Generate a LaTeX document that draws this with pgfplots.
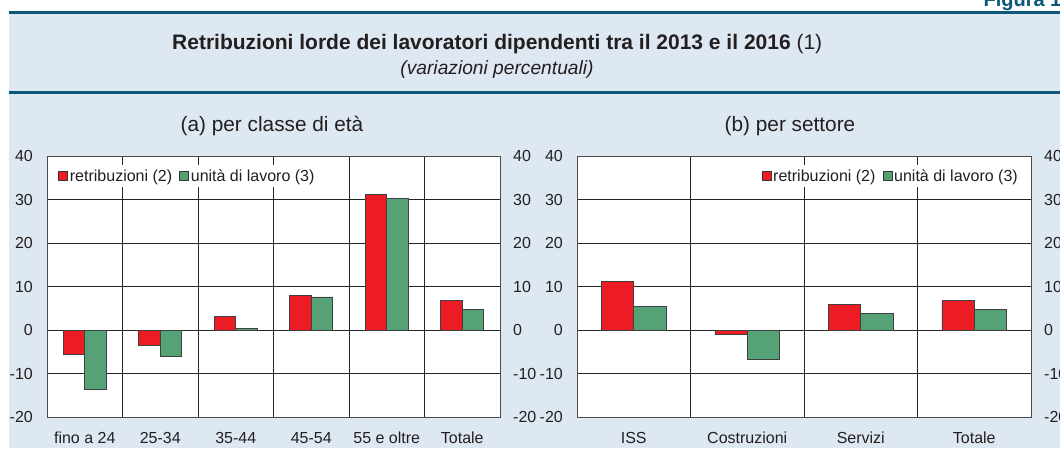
\documentclass[border=0pt]{standalone}
\usepackage{fontspec}
\setmainfont{Liberation Sans}
\usepackage{pgfplots}
\usepackage{pgfplotstable}
\pgfplotsset{compat=1.18}
\definecolor{bgblue}{HTML}{DEE8F2}
\definecolor{lineblue}{HTML}{0B5878}
\definecolor{barred}{HTML}{ED1C24}
\definecolor{bargreen}{HTML}{54A275}
\definecolor{txt}{HTML}{231F20}
\newcommand{\fs}[1]{\fontsize{#1}{#1}\selectfont}

\pgfplotstableread{
x r u
0 -5.7 -13.7
1 -3.5 -6.1
2 3.1 0.3
3 8.0 7.6
4 31.2 30.3
5 6.8 4.7
}\tabA
\pgfplotstableread{
x r u
0 11.2 5.5
1 -1.0 -6.8
2 5.9 3.9
3 6.8 4.7
}\tabB

\pgfplotsset{
  panel/.style={
    scale only axis, height=261pt, ymin=-20, ymax=40,
    ytick={-20,-10,...,40}, yticklabels={-20,-10,0,10,20,30,40},
    ymajorgrids, xminorgrids,
    grid style={draw=black!85, line width=0.7pt},
    minor grid style={draw=black!85, line width=0.7pt},
    major tick length=0pt, minor tick length=0pt,
    axis line style={draw=black!70, line width=1pt},
    axis background/.style={fill=white},
    ticklabel style={font=\fs{16}, text=txt},
    yticklabel style={anchor=east, inner sep=0pt, xshift=-14pt},
    xticklabel style={anchor=base, inner sep=0pt, yshift=-26pt},
    ybar=0pt, bar width=0.285,
    enlargelimits=false,
    legend columns=2,
    legend style={draw=none, fill=white, font=\fs{16}, text=txt,
      inner xsep=3pt, inner ysep=3pt,
      nodes={inner xsep=2pt, inner ysep=1pt},
      /tikz/every even column/.append style={column sep=5pt}},
  },
  rlab/.style={
    scale only axis, height=261pt, xmin=0, xmax=1, ymin=-20, ymax=40,
    ytick={-20,-10,...,40}, yticklabels={-20,-10,0,10,20,30,40},
    yticklabel pos=right, xtick=\empty, axis line style={draw=none},
    major tick length=0pt,
    ticklabel style={font=\fs{16}, text=txt},
    yticklabel style={anchor=west, inner sep=0pt, xshift=13pt},
  },
  sqleg/.style={legend image code/.code={\draw[##1, draw=black!80, line width=0.7pt] (0pt,-4.5pt) rectangle (9pt,4.5pt);}},
}

\begin{document}
\begin{tikzpicture}[x=1pt,y=1pt]
\useasboundingbox (0,0) rectangle (1060,451);
\clip (0,0) rectangle (1060,451);
\fill[bgblue] (9,3) rectangle (1060,437);
\fill[lineblue] (9,437) rectangle (1060,440);
\fill[lineblue] (9,357) rectangle (1060,360);
\node[anchor=base west, font=\bfseries\fs{20}, text=lineblue] at (980,444) {Figura 1.1};
\node[anchor=base west, inner sep=0pt, font=\fs{21}, text=txt] at (172,401) {\textbf{Retribuzioni lorde dei lavoratori dipendenti tra il 2013 e il 2016} (1)};
\node[anchor=base, font=\itshape\fs{19.2}, text=txt] at (497,377) {(variazioni percentuali)};
\node[anchor=base, font=\fs{20.8}, text=txt] at (272,319.5) {(a) per classe di età};
\node[anchor=base, font=\fs{20.8}, text=txt] at (790,319.5) {(b) per settore};

\begin{axis}[panel, at={(47pt,34pt)}, anchor=south west, width=453pt,
  xmin=-0.5, xmax=5.5, xtick={0,...,5},
  xticklabels={fino a 24,25-34,35-44,45-54,55 e oltre,Totale},
  minor xtick={0.5,1.5,...,4.5},
  legend style={at={(axis description cs:0.0177,0.923)}, anchor=west}]
\addplot[fill=barred, draw=black!75, line width=0.8pt, sqleg] table[x=x,y=r]{\tabA};
\addplot[fill=bargreen, draw=black!75, line width=0.8pt, sqleg] table[x=x,y=u]{\tabA};
\legend{retribuzioni (2),unità di lavoro (3)}
\end{axis}
\begin{axis}[rlab, at={(47pt,34pt)}, anchor=south west, width=453pt]
\end{axis}

\begin{axis}[panel, at={(577pt,34pt)}, anchor=south west, width=454pt,
  xmin=-0.5, xmax=3.5, xtick={0,...,3},
  xticklabels={ISS,Costruzioni,Servizi,Totale},
  minor xtick={0.5,1.5,2.5},
  legend style={at={(axis description cs:0.9824,0.923)}, anchor=east}]
\addplot[fill=barred, draw=black!75, line width=0.8pt, sqleg] table[x=x,y=r]{\tabB};
\addplot[fill=bargreen, draw=black!75, line width=0.8pt, sqleg] table[x=x,y=u]{\tabB};
\legend{retribuzioni (2),unità di lavoro (3)}
\end{axis}
\begin{axis}[rlab, at={(577pt,34pt)}, anchor=south west, width=454pt]
\end{axis}
\end{tikzpicture}
\end{document}
